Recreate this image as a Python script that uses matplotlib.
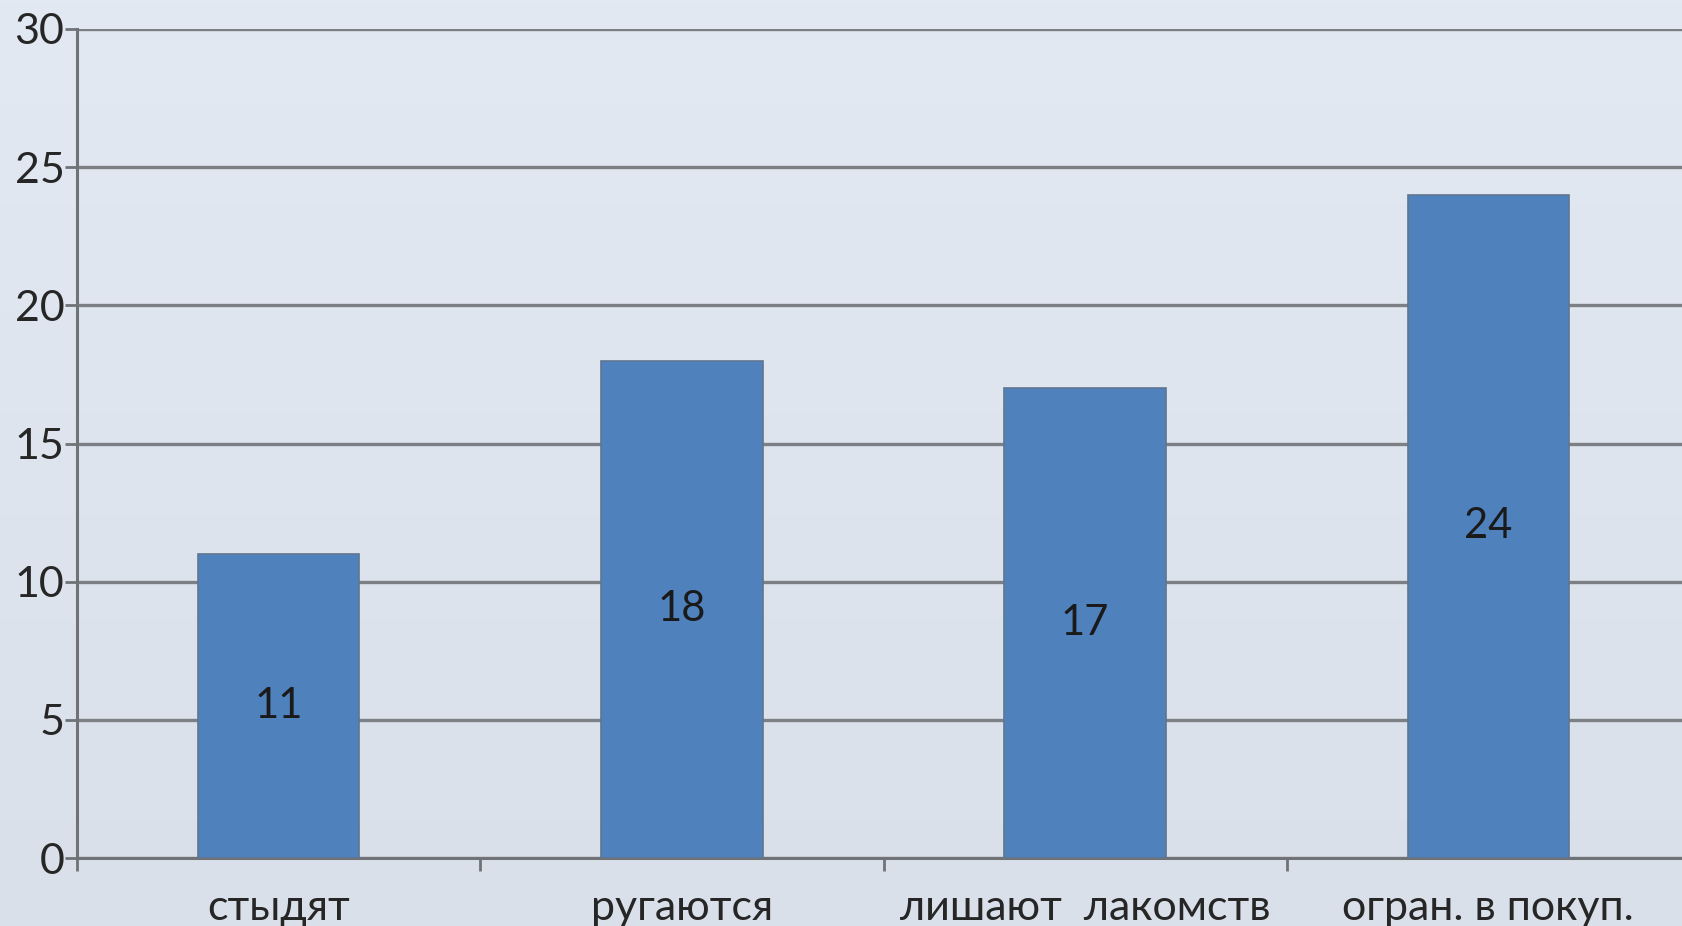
import matplotlib
matplotlib.use("Agg")
import matplotlib.pyplot as plt
import numpy as np

categories = ["стыдят", "ругаются", "лишают  лакомств", "огран. в покуп."]
values = [11, 18, 17, 24]
yticks = [0, 5, 10, 15, 20, 25, 30]

plt.rcParams['font.family'] = ['Lato', 'DejaVu Sans']

W, H = 1682, 926
fig = plt.figure(figsize=(W / 100, H / 100), dpi=100)

# background gradient
bg = fig.add_axes([0, 0, 1, 1], zorder=-10)
grad = np.linspace(0, 1, 256)[:, None, None]
top = np.array([227, 233, 243]) / 255
bot = np.array([218, 224, 233]) / 255
img = top * (1 - grad) + bot * grad
img = np.repeat(img, 2, axis=1)
bg.imshow(img, aspect='auto', extent=[0, 1, 0, 1])
bg.axis('off')

x0, x1 = 77 / W, 1690 / W
y0, y1 = (H - 858) / H, (H - 29) / H
ax = fig.add_axes([x0, y0, x1 - x0, y1 - y0])
ax.set_facecolor('none')

x = np.arange(len(categories))
ax.bar(x, values, width=0.4, color='#4f81bd', edgecolor='#5f7590', linewidth=1.2, zorder=3)
for xi, v in zip(x, values):
    ax.text(xi, v / 2, str(v), ha='center', va='center', fontsize=30, color='#1a1a1a', zorder=4)

ax.set_xlim(-0.5, len(categories) - 0.5)
ax.set_ylim(0, 30)
ax.set_yticks(yticks)
ax.set_yticklabels([str(t) for t in yticks], fontsize=31, color='#262626')
ax.yaxis.grid(True, color='#7c8084', linewidth=2.4, zorder=1)
ax.set_axisbelow(True)

ax.set_xticks(x)
ax.set_xticklabels(categories, fontsize=31, color='#262626')
ax.set_xticks(np.arange(len(categories) + 1) - 0.5, minor=True)
ax.tick_params(axis='x', which='major', length=0, pad=22)
ax.tick_params(axis='x', which='minor', length=9, width=2, color='#6f7377', direction='out')
ax.tick_params(axis='y', length=9, width=2, color='#6f7377', pad=0)

for s in ['top', 'right']:
    ax.spines[s].set_visible(False)
for s in ['left', 'bottom']:
    ax.spines[s].set_color('#6f7377')
    ax.spines[s].set_linewidth(2.2)

fig.savefig('out.png', dpi=100)
